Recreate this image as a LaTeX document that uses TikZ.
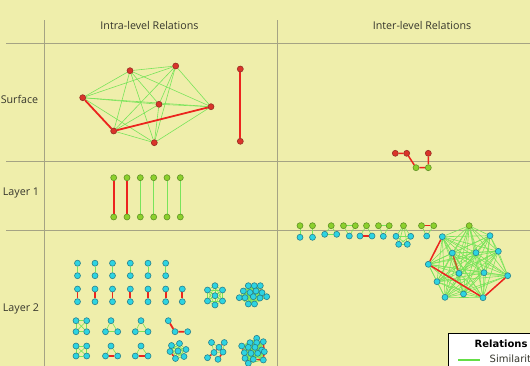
\documentclass[tikz,border=0pt]{standalone}
\usepackage{fontspec}
\newfontfamily\hdfont{Open Sans}
\newfontfamily\lgfont{DejaVu Sans}
\pgfdeclarelayer{bg}
\pgfdeclarelayer{edges}
\pgfsetlayers{bg,edges,main}
\definecolor{bgc}{RGB}{239,238,171}
\definecolor{gridc}{RGB}{165,163,132}
\definecolor{nred}{RGB}{218,52,42}
\definecolor{nredd}{RGB}{150,45,35}
\definecolor{ngreen}{RGB}{140,208,45}
\definecolor{ngreend}{RGB}{95,145,35}
\definecolor{ncyan}{RGB}{45,212,226}
\definecolor{ncyand}{RGB}{40,128,140}
\definecolor{egreen}{RGB}{120,228,90}
\definecolor{lgreen}{RGB}{100,222,70}
\definecolor{ered}{RGB}{236,36,30}
\definecolor{ebrown}{RGB}{200,90,40}
\definecolor{txtc}{RGB}{55,55,45}
\newcommand\mknodes[3]{\foreach \p [count=\i] in {#3} \node[#1] (#2\i) at \p {};}
\newcommand\kgraph[2]{\foreach \i in {1,...,#2}{\foreach \j in {\i,...,#2}{\ifnum\i<\j\relax \draw[ge] (#1\i) -- (#1\j);\fi}}}
\begin{document}
\begin{tikzpicture}[x=1pt,y=-1pt,
  nd/.style={circle,inner sep=0pt,minimum size=6pt,line width=0.6pt},
  rn/.style={nd,fill=nred,draw=nredd},
  gn/.style={nd,fill=ngreen,draw=ngreend},
  cn/.style={nd,fill=ncyan,draw=ncyand},
  ge/.style={draw=egreen,line width=0.6pt},
  gel/.style={draw=egreen,line width=0.9pt},
  re/.style={draw=ered,line width=1.8pt},
  grid/.style={draw=gridc,line width=0.9pt},
  hd/.style={font=\hdfont\fontsize{10.7}{12}\selectfont,text=txtc,inner sep=0pt}]
\useasboundingbox (0,0) rectangle (530,366);
\clip (0,0) rectangle (530,366);
\begin{pgfonlayer}{bg}
\fill[bgc] (0,0) rectangle (530,366);
\draw[grid] (44,20.5) -- (44,366);
\draw[grid] (277.5,20.5) -- (277.5,366);
\draw[grid] (6,43) -- (530,43);
\draw[grid] (6,161) -- (530,161);
\draw[grid] (6,230) -- (530,230);
\end{pgfonlayer}
% headers and labels
\node[hd] (h1) at (149.5,25) {Intra-level Relations};
\node[hd] (h2) at (422,25) {Inter-level Relations};
\node[hd] (l0) at (19.5,99.5) {Surface};
\node[hd] (l1) at (21,192.5) {Layer 1};
\node[hd] (l2) at (21,309) {Layer 2};
% surface
\mknodes{rn}{s}{(82.7,97.7),(130,70.7),(175.7,66),(159,104.3),(211,106.7),(113.7,131),(154.3,142.7),(240.3,69),(240.3,141.3)}
% layer 1
\foreach \x [count=\i] in {113.7,127,140.3,153.7,167,180.3}{\node[gn] (ta\i) at (\x,177.7) {}; \node[gn] (tb\i) at (\x,217) {};}
% inter surface-layer1
\mknodes{rn}{i}{(395.3,153.3),(406.7,153.3),(428.3,153.3)}
\node[gn] (i4) at (416,167.7) {};
\node[gn] (i5) at (428.3,167.7) {};
% inter layer1-layer2
\foreach \x [count=\i] in {300,312.5,331.2,343.5,355.3,366.5,378.5,389.2,403.5,421.5,433.7}{\node[gn] (g\i) at (\x,225.7) {};}
\mknodes{cn}{c}{(300,237.3),(312.5,237.3),(324.7,234.3),(336.7,234.3),(349.3,236),(360,236),(372,236),(383.3,236.3),(396,236.3),(410.7,236.3),(398.7,244.3),(407.3,244.3),(426.7,236)}
% big cluster
\node[gn] (b1) at (469.2,225.7) {};
\foreach \p [count=\i from 2] in {(442.3,236.7),(490,235.7),(452.3,253),(476,252.7),(498.3,251.3),(428.3,264.3),(459,273.3),(484,272.7),(507.7,275.7),(437,281.7),(463.5,294),(445,297.3),(483,297.7)} \node[cn] (b\i) at \p {};
% layer 2 pairs
\foreach \x [count=\i] in {77.5,95,112.5,130.3,148,165.7}{\node[cn] (ua\i) at (\x,263.2) {}; \node[cn] (ub\i) at (\x,275.7) {};}
\foreach \x [count=\i] in {77.5,95,112.5,130.3,148,165.7,182.3}{\node[cn] (va\i) at (\x,289) {}; \node[cn] (vb\i) at (\x,301.7) {};}
% star
\mknodes{cn}{st}{(215,295.7),(215,285.7),(222.5,290),(222.5,301),(215,305),(207.5,301),(207.5,290)}
% cluster k
\mknodes{cn}{k}{(248.3,285.7),(254.3,285.7),(260.3,285.7),(243.3,291),(250,292.5),(256,291),(262,292.7),(239.3,297.7),(245,297.7),(253.3,296.7),(260,298),(266.7,296.7),(248.3,304),(254.5,304)}
% row 3
\mknodes{cn}{sqa}{(76,320.7),(86.7,320.7),(76,331.7),(86.7,331.7)}
\mknodes{cn}{tra}{(111,320.7),(105.5,331.7),(117.7,331.7)}
\mknodes{cn}{trb}{(141,320.7),(135.3,331.7),(148,331.7)}
\mknodes{cn}{el}{(168.3,320.7),(175,331.7),(187.7,331.7)}
% row 4
\mknodes{cn}{sqb}{(76,346),(86.7,346),(76,356),(86.7,356)}
\mknodes{cn}{trc}{(111,346),(105.5,356),(117.7,356)}
\mknodes{cn}{trd}{(141,346),(135.3,356),(148,356)}
\mknodes{cn}{q}{(171.5,345.5),(179.5,343.5),(186,349.5),(184,356.5),(175.5,358.5),(170,351.5),(178,351)}
\mknodes{cn}{d}{(211.5,342.5),(224.3,342.5),(219,347.3),(214,352.5),(207.5,357.7),(218,359.3),(223,352)}
\mknodes{cn}{r}{(256.7,338.3),(250,342.7),(256.7,342.7),(263.3,341.7),(241.7,346),(248.3,347.3),(255,347.3),(261.7,350),(244.3,352.7),(251,353.3),(257.7,353.3),(264.3,351.7),(245,358.3),(253.3,359.3),(263.3,360),(248.3,363.3)}
% legend
\node[draw=black,fill=white,line width=1pt,minimum width=120pt,minimum height=60pt,anchor=north west,inner sep=0pt] (leg) at (448.3,333.3) {};
\node[font=\lgfont\bfseries\fontsize{10}{12}\selectfont,anchor=west,inner sep=0pt] (legt) at (474.5,343.5) {Relations};
\coordinate (la) at (458,359.5);
\coordinate (lb) at (480,359.5);
\draw[color=lgreen,line width=2pt] (la) -- (lb);
\node[font=\lgfont\fontsize{10}{12}\selectfont,text=txtc,anchor=west,inner sep=0pt] (legs) at (489.5,359.5) {Similarity};
% edges
\begin{pgfonlayer}{edges}
\kgraph{s}{7}
\draw[re] (s1) -- (s6) -- (s5);
\draw[re] (s8) -- (s9);
\foreach \i in {1,2} \draw[re] (ta\i) -- (tb\i);
\foreach \i in {3,...,6} \draw[gel] (ta\i) -- (tb\i);
\draw[re,line width=1.5pt] (i1) -- (i2) -- (i4) -- (i5) -- (i3);
% inter layer1-layer2
\draw[ge] (g1) -- (c1);
\draw[ge] (g2) -- (c2);
\draw[ge] (g3) -- (c3); \draw[ge] (g3) -- (c4); \draw[ge] (c3) -- (c4);
\draw[ge] (g4) -- (g5); \draw[ge] (g4) -- (c5); \draw[ge] (g5) -- (c5);
\draw[ge] (g6) -- (c6); \draw[ge] (g6) -- (c7);
\draw[re,line width=1.5pt] (c6) -- (c7);
\draw[ge] (g7) -- (g8); \draw[ge] (g7) -- (c8); \draw[ge] (g8) -- (c8);
\foreach \a/\b in {g9/c9,g9/c10,g9/c11,g9/c12,c9/c10,c9/c11,c9/c12,c10/c11,c10/c12,c11/c12} \draw[ge] (\a) -- (\b);
\draw[ge] (g10) -- (c13); \draw[ge] (g11) -- (c13);
\draw[re,line width=1.5pt] (g10) -- (g11);
\kgraph{b}{14}
\draw[re,line width=1.5pt] (b2) -- (b7) -- (b14) -- (b10);
\draw[draw=ebrown,line width=1.5pt] (b4) -- (b8);
% layer 2 intra
\foreach \i in {1,...,6} \draw[gel] (ua\i) -- (ub\i);
\foreach \i in {1,...,7} \draw[re] (va\i) -- (vb\i);
\kgraph{st}{7}
\kgraph{k}{14}
\draw[re,line width=1.3pt] (k3) -- (k7) -- (k12);
\kgraph{sqa}{4}
\kgraph{tra}{3}
\kgraph{trb}{3}
\draw[re] (el1) -- (el2) -- (el3);
\kgraph{sqb}{4}
\kgraph{trc}{3}
\kgraph{trd}{3}
\draw[re] (trc2) -- (trc3);
\draw[re] (trd2) -- (trd3);
\kgraph{q}{7}
\draw[re,line width=1.5pt] (q1) -- (q6) -- (q5);
\foreach \a/\b in {d1/d3,d1/d4,d3/d7,d4/d7,d4/d6,d6/d7,d2/d7} \draw[ge] (\a) -- (\b);
\draw[re,line width=1.5pt] (d5) -- (d4) -- (d3) -- (d2);
\draw[re,line width=1.5pt] (d6) -- (d7);
\kgraph{r}{16}
\draw[re,line width=1.3pt] (r5) -- (r9) -- (r13) -- (r16) -- (r14) -- (r15) -- (r12) -- (r4);
\end{pgfonlayer}
\end{tikzpicture}
\end{document}
